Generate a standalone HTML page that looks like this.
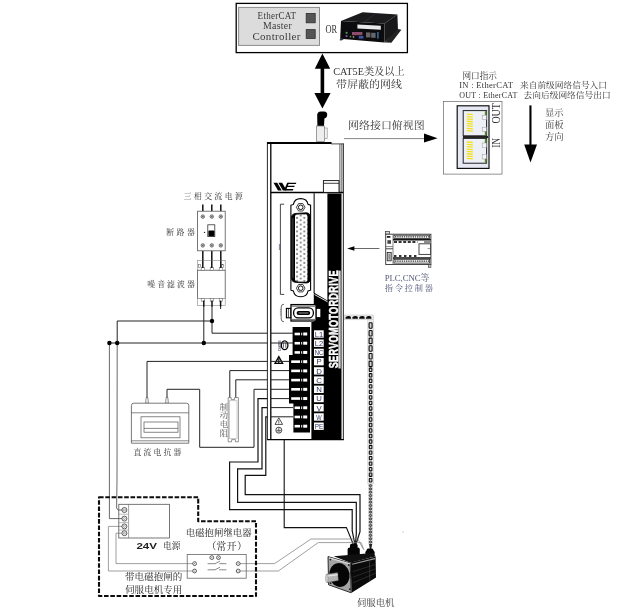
<!DOCTYPE html>
<html lang="zh-CN">
<head>
<meta charset="utf-8">
<title>EtherCAT 伺服驱动器接线图</title>
<style>
html,body{margin:0;padding:0;background:#fff;}
body{width:622px;height:615px;overflow:hidden;font-family:"Liberation Serif","Noto Serif CJK SC",serif;}
svg{display:block;filter:blur(0.4px);}
text{white-space:pre;}
</style>
</head>
<body>
<svg width="622" height="615" viewBox="0 0 622 615" role="img" aria-label="EtherCAT 伺服驱动器接线图">
<defs>
<pattern id="pins" x="295.2" y="214.4" width="7.3" height="4.5" patternUnits="userSpaceOnUse">
<rect width="7.3" height="4.5" fill="#fff"/>
<circle cx="1.85" cy="3.5" r="0.7" fill="#bbb" stroke="#333" stroke-width="0.5"/>
<circle cx="5.5" cy="1.25" r="0.7" fill="#bbb" stroke="#333" stroke-width="0.5"/>
</pattern>
</defs>
<rect width="622" height="615" fill="#fff"/>
<!-- master controller box -->
<rect x="236.2" y="3.4" width="171.2" height="49.2" fill="none" stroke="#000" stroke-width="1.3" />
<rect x="238.6" y="7.4" width="80.9" height="38.0" fill="#dcdcdc" stroke="#8c8c8c" stroke-width="1" />
<text x="257.6" y="18.7" font-size="10" fill="#3a3a3a" font-family='"Liberation Serif","Noto Serif CJK SC",serif' textLength="38.8" lengthAdjust="spacingAndGlyphs" letter-spacing="0.3">EtherCAT</text>
<text x="263" y="29.4" font-size="10" fill="#3a3a3a" font-family='"Liberation Serif","Noto Serif CJK SC",serif' textLength="29" lengthAdjust="spacingAndGlyphs" letter-spacing="0.3">Master</text>
<text x="252.4" y="40.2" font-size="10" fill="#3a3a3a" font-family='"Liberation Serif","Noto Serif CJK SC",serif' textLength="48.4" lengthAdjust="spacingAndGlyphs" letter-spacing="0.3">Controller</text>
<rect x="306.2" y="13.4" width="9.0" height="9.4" fill="#555" stroke="#2e2e2e" stroke-width="0.8" />
<rect x="306.2" y="29.6" width="9.0" height="8.8" fill="#555" stroke="#2e2e2e" stroke-width="0.8" />
<text x="325.6" y="33.4" font-size="13.4" fill="#333" font-family='"Liberation Serif","Noto Serif CJK SC",serif' textLength="11.6" lengthAdjust="spacingAndGlyphs">OR</text>
<!-- industrial pc -->
<polygon points="362.6,12.2 397.4,14.6 384.4,23.4 341,21" fill="#1b1b1e" stroke="none" stroke-width="1" />
<polygon points="341,21 384.4,23.4 384.4,42.4 340.2,38.8" fill="#0c0c0e" stroke="none" stroke-width="1" />
<polygon points="384.4,23.4 397.4,14.6 398,30.6 384.4,42.4" fill="#18181b" stroke="none" stroke-width="1" />
<polygon points="398,29 401.4,29.8 391.4,42.8 387,42.4 384.4,42.4" fill="#222" stroke="none" stroke-width="1" />
<polygon points="340.2,38.4 344,39 341.5,40.6 339.6,40.2" fill="#333" stroke="none" stroke-width="1" />
<line x1="376" y1="13.2" x2="364" y2="22.4" stroke="#3a3a40" stroke-width="0.6" />
<polygon points="357.4,24.4 380.8,25.8 380.8,29.8 357.4,28.6" fill="#e9e9ec" stroke="none" stroke-width="1" />
<rect x="352" y="32" width="10.4" height="3.2" fill="#8c4c6c" stroke="none" stroke-width="1" />
<circle cx="346.6" cy="32.8" r="1.1" fill="#4a9a5a" stroke="none" stroke-width="1"/>
<circle cx="346.6" cy="36" r="1.1" fill="#7a5aa8" stroke="none" stroke-width="1"/>
<rect x="358.8" y="36" width="4.6" height="2.6" fill="#3c55a8" stroke="none" stroke-width="1" />
<rect x="366" y="32.4" width="4.4" height="5.0" fill="#66666a" stroke="none" stroke-width="1" />
<rect x="371.2" y="32.8" width="4.4" height="5.0" fill="#66666a" stroke="none" stroke-width="1" />
<rect x="377.2" y="32" width="1.4" height="6.6" fill="#3a78b0" stroke="none" stroke-width="1" />
<circle cx="350.5" cy="36.6" r="0.9" fill="#5a8a4a" stroke="none" stroke-width="1"/>
<circle cx="353.5" cy="37" r="0.9" fill="#888" stroke="none" stroke-width="1"/>
<!-- double arrow -->
<polygon points="322.4,53.6 330.2,68.8 324.2,68.8 324.2,93 330.6,93 322.4,108.4 314.4,93 320.6,93 320.6,68.8 314.8,68.8" fill="#000" stroke="none" stroke-width="1" />
<text x="369" y="75" font-size="10.6" fill="#333" font-family='"Liberation Serif","Noto Serif CJK SC",serif' text-anchor="middle" textLength="71.5" lengthAdjust="spacingAndGlyphs">CAT5E类及以上</text>
<text x="369" y="88.4" font-size="10.6" fill="#333" font-family='"Liberation Serif","Noto Serif CJK SC",serif' text-anchor="middle" textLength="66" lengthAdjust="spacingAndGlyphs">带屏蔽的网线</text>
<path d="M317.4,126 L317.2,116 Q316.8,111.4 321,111.4 L324,111.4 Q327.4,111.6 327.2,115 Q327,118 324.4,118.4 L324,126 Z" fill="#000" stroke="none" stroke-width="1" />
<rect x="316.4" y="126" width="8.0" height="15.6" fill="#eee" stroke="#7c7474" stroke-width="0.7" />
<rect x="324.4" y="128" width="2.8" height="10.6" fill="#f4f4f4" stroke="#8c8484" stroke-width="0.6" />
<line x1="344" y1="138.6" x2="426" y2="138.6" stroke="#666" stroke-width="0.8" />
<polygon points="424,133.6 437.6,138.2 424,142.6" fill="#000" stroke="none" stroke-width="1" />
<text x="386.4" y="129" font-size="10.6" fill="#333" font-family='"Liberation Serif","Noto Serif CJK SC",serif' text-anchor="middle" textLength="76.6" lengthAdjust="spacingAndGlyphs">网络接口俯视图</text>
<!-- port view -->
<rect x="443.4" y="101.4" width="58.6" height="72.7" fill="#fff" stroke="#666" stroke-width="0.7" />
<rect x="457.2" y="105.8" width="31.8" height="62.6" fill="#e6e9f4" stroke="#111" stroke-width="1.2" />
<rect x="463.2" y="110.6" width="23.4" height="25.2" fill="#eef0f8" stroke="#222" stroke-width="1" />
<line x1="466.8" y1="114.19999999999999" x2="472.8" y2="114.69999999999999" stroke="#f2e21a" stroke-width="1.3" />
<line x1="466.8" y1="116.54999999999998" x2="472.8" y2="117.04999999999998" stroke="#f2e21a" stroke-width="1.3" />
<line x1="466.8" y1="118.89999999999999" x2="472.8" y2="119.39999999999999" stroke="#f2e21a" stroke-width="1.3" />
<line x1="466.8" y1="121.24999999999999" x2="472.8" y2="121.74999999999999" stroke="#f2e21a" stroke-width="1.3" />
<line x1="466.8" y1="123.6" x2="472.8" y2="124.1" stroke="#f2e21a" stroke-width="1.3" />
<line x1="466.8" y1="125.94999999999999" x2="472.8" y2="126.44999999999999" stroke="#f2e21a" stroke-width="1.3" />
<line x1="466.8" y1="128.29999999999998" x2="472.8" y2="128.79999999999998" stroke="#f2e21a" stroke-width="1.3" />
<line x1="466.8" y1="130.64999999999998" x2="472.8" y2="131.14999999999998" stroke="#f2e21a" stroke-width="1.3" />
<rect x="482.2" y="115.19999999999999" width="4.2" height="4.4" fill="#f4f4f8" stroke="#999" stroke-width="0.5" />
<rect x="482.2" y="127.20000000000002" width="4.2" height="4.4" fill="#f4f4f8" stroke="#999" stroke-width="0.5" />
<rect x="484.8" y="111.19999999999999" width="1.8" height="4.0" fill="#5a8a2a" stroke="none" stroke-width="1" />
<rect x="484.8" y="131.4" width="1.8" height="4.0" fill="#5a8a2a" stroke="none" stroke-width="1" />
<rect x="463.2" y="138.4" width="23.4" height="24.8" fill="#eef0f8" stroke="#222" stroke-width="1" />
<line x1="466.8" y1="142.0" x2="472.8" y2="142.5" stroke="#f2e21a" stroke-width="1.3" />
<line x1="466.8" y1="144.35" x2="472.8" y2="144.85" stroke="#f2e21a" stroke-width="1.3" />
<line x1="466.8" y1="146.7" x2="472.8" y2="147.2" stroke="#f2e21a" stroke-width="1.3" />
<line x1="466.8" y1="149.05" x2="472.8" y2="149.55" stroke="#f2e21a" stroke-width="1.3" />
<line x1="466.8" y1="151.4" x2="472.8" y2="151.9" stroke="#f2e21a" stroke-width="1.3" />
<line x1="466.8" y1="153.75" x2="472.8" y2="154.25" stroke="#f2e21a" stroke-width="1.3" />
<line x1="466.8" y1="156.1" x2="472.8" y2="156.6" stroke="#f2e21a" stroke-width="1.3" />
<line x1="466.8" y1="158.45" x2="472.8" y2="158.95" stroke="#f2e21a" stroke-width="1.3" />
<rect x="482.2" y="143.0" width="4.2" height="4.4" fill="#f4f4f8" stroke="#999" stroke-width="0.5" />
<rect x="482.2" y="154.6" width="4.2" height="4.4" fill="#f4f4f8" stroke="#999" stroke-width="0.5" />
<rect x="484.8" y="139.0" width="1.8" height="4.0" fill="#5a8a2a" stroke="none" stroke-width="1" />
<rect x="484.8" y="158.79999999999998" width="1.8" height="4.0" fill="#5a8a2a" stroke="none" stroke-width="1" />
<line x1="463" y1="137" x2="488" y2="137" stroke="#111" stroke-width="1.8" />
<text x="0" y="0" font-size="11.6" fill="#333" font-family='"Liberation Serif","Noto Serif CJK SC",serif' textLength="10" lengthAdjust="spacingAndGlyphs" transform="translate(500,147.8) rotate(-90)">IN</text>
<text x="0" y="0" font-size="11.6" fill="#333" font-family='"Liberation Serif","Noto Serif CJK SC",serif' textLength="20.4" lengthAdjust="spacingAndGlyphs" transform="translate(500,123.6) rotate(-90)">OUT</text>
<text x="462.4" y="79.2" font-size="8.6" fill="#333" font-family='"Liberation Serif","Noto Serif CJK SC",serif' textLength="34.6" lengthAdjust="spacingAndGlyphs">网口指示</text>
<text x="459.2" y="88" font-size="9" fill="#333" font-family='"Liberation Serif","Noto Serif CJK SC",serif' textLength="54" lengthAdjust="spacingAndGlyphs" letter-spacing="0.3">IN : EtherCAT</text>
<text x="520" y="88" font-size="8.3" fill="#333" font-family='"Liberation Serif","Noto Serif CJK SC",serif' textLength="87" lengthAdjust="spacingAndGlyphs">来自前级网络信号入口</text>
<text x="459.2" y="97.8" font-size="9" fill="#333" font-family='"Liberation Serif","Noto Serif CJK SC",serif' textLength="58.4" lengthAdjust="spacingAndGlyphs" letter-spacing="0.3">OUT : EtherCAT</text>
<text x="523.6" y="97.8" font-size="8.3" fill="#333" font-family='"Liberation Serif","Noto Serif CJK SC",serif' textLength="87" lengthAdjust="spacingAndGlyphs">去向后级网络信号出口</text>
<rect x="529.4" y="105.4" width="2.1" height="40.6" fill="#000" stroke="none" stroke-width="1" />
<polygon points="524.2,144.6 537,144.6 530.5,162.6" fill="#000" stroke="none" stroke-width="1" />
<text x="545" y="116.4" font-size="9.4" fill="#444" font-family='"Liberation Serif","Noto Serif CJK SC",serif' textLength="18.6" lengthAdjust="spacingAndGlyphs">显示</text>
<text x="545" y="128.4" font-size="9.4" fill="#444" font-family='"Liberation Serif","Noto Serif CJK SC",serif' textLength="18.6" lengthAdjust="spacingAndGlyphs">面板</text>
<text x="545" y="140" font-size="9.4" fill="#444" font-family='"Liberation Serif","Noto Serif CJK SC",serif' textLength="18.6" lengthAdjust="spacingAndGlyphs">方向</text>
<!-- plc -->
<rect x="385.6" y="231.4" width="4.0" height="2.8" fill="#ddd" stroke="#333" stroke-width="0.7" />
<rect x="385.7" y="234.2" width="45.2" height="30.3" fill="#fff" stroke="#333" stroke-width="0.9" />
<line x1="393" y1="234.2" x2="393" y2="264.5" stroke="#555" stroke-width="0.7" />
<rect x="386.8" y="236" width="3.6" height="1.8" fill="#222" stroke="none" stroke-width="1" />
<rect x="387.4" y="240.2" width="3.6" height="3.6" fill="#444" stroke="none" stroke-width="1" />
<line x1="386" y1="246.6" x2="393" y2="246.6" stroke="#666" stroke-width="0.8" />
<line x1="386" y1="248.8" x2="393" y2="248.8" stroke="#444" stroke-width="1" />
<rect x="387.2" y="252.4" width="4.0" height="8.4" fill="#ccc" stroke="#222" stroke-width="0.8" />
<line x1="389.2" y1="254" x2="389.2" y2="259.4" stroke="#555" stroke-width="0.8" />
<rect x="394" y="235.2" width="35.7" height="3.3" fill="#fff" stroke="#222" stroke-width="0.8" />
<line x1="395" y1="236.9" x2="429" y2="236.9" stroke="#333" stroke-width="1.3" stroke-dasharray="1.4 0.8"/>
<line x1="393" y1="239.8" x2="430.8" y2="239.8" stroke="#111" stroke-width="1.5" />
<line x1="394" y1="242" x2="417.4" y2="242" stroke="#333" stroke-width="1.8" stroke-dasharray="3 1.6"/>
<line x1="424" y1="242" x2="430.4" y2="242" stroke="#444" stroke-width="1.2" />
<rect x="419" y="243.8" width="11.6" height="10.6" fill="#fff" stroke="#333" stroke-width="0.9" />
<line x1="427.6" y1="248.6" x2="430" y2="248.6" stroke="#666" stroke-width="0.7" />
<line x1="394" y1="256" x2="417.4" y2="256" stroke="#333" stroke-width="1.8" stroke-dasharray="2.4 2.6"/>
<line x1="393" y1="258" x2="430.8" y2="258" stroke="#111" stroke-width="1.5" />
<rect x="394" y="259.3" width="35.7" height="3.8" fill="#fff" stroke="#222" stroke-width="0.8" />
<line x1="395" y1="261.2" x2="429" y2="261.2" stroke="#333" stroke-width="1.3" stroke-dasharray="1.4 0.8"/>
<rect x="428.4" y="264.5" width="2.5" height="2.9" fill="#ccc" stroke="#333" stroke-width="0.6" />
<line x1="353" y1="248.5" x2="379.4" y2="248.5" stroke="#444" stroke-width="0.8" />
<polygon points="347.2,248.5 354.4,246.3 354.4,250.7" fill="#000" stroke="none" stroke-width="1" />
<text x="384.8" y="281.2" font-size="8.8" fill="#565a78" font-family='"Liberation Serif","Noto Serif CJK SC",serif' textLength="44.4" lengthAdjust="spacing">PLC,CNC等</text>
<text x="384.8" y="290.6" font-size="8.2" fill="#565a78" font-family='"Liberation Serif","Noto Serif CJK SC",serif' textLength="48.2" lengthAdjust="spacing">指令控制器</text>
<!-- encoder cable -->
<rect x="344.6" y="315" width="29.0" height="4.8" fill="#eaeaea" stroke="#bdbdbd" stroke-width="0.5" />
<path d="M345.6,318.8 L345.6,317.6 Q346.0,316 348.20000000000005,316 L349.0,316 Q351.0,316 351.0,317.6 L351.0,318.8 Z" fill="#0a0a0a" stroke="none" stroke-width="1" />
<path d="M352.40000000000003,318.8 L352.40000000000003,317.6 Q352.8,316 355.00000000000006,316 L355.8,316 Q357.8,316 357.8,317.6 L357.8,318.8 Z" fill="#0a0a0a" stroke="none" stroke-width="1" />
<path d="M359.20000000000005,318.8 L359.20000000000005,317.6 Q359.6,316 361.80000000000007,316 L362.6,316 Q364.6,316 364.6,317.6 L364.6,318.8 Z" fill="#0a0a0a" stroke="none" stroke-width="1" />
<path d="M366.0,318.8 L366.0,317.6 Q366.4,316 368.6,316 L369.4,316 Q371.4,316 371.4,317.6 L371.4,318.8 Z" fill="#0a0a0a" stroke="none" stroke-width="1" />
<rect x="367.8" y="319.8" width="5.8" height="164.2" fill="#ececec" stroke="#c4c4c4" stroke-width="0.5" />
<rect x="368.4" y="484" width="4.4" height="60" fill="#e4e4e4" stroke="#c8c8c8" stroke-width="0.4" />
<rect x="369.1" y="322.75" width="3" height="5.5" fill="#d4d4d4" stroke="#0a0a0a" stroke-width="1.1" rx="0.7" />
<rect x="369.1" y="330.43" width="3" height="5.5" fill="#d4d4d4" stroke="#0a0a0a" stroke-width="1.1" rx="0.7" />
<rect x="369.1" y="338.11" width="3" height="5.5" fill="#d4d4d4" stroke="#0a0a0a" stroke-width="1.1" rx="0.7" />
<rect x="369.1" y="345.79" width="3" height="5.5" fill="#d4d4d4" stroke="#0a0a0a" stroke-width="1.1" rx="0.7" />
<rect x="369.1" y="353.47" width="3" height="5.5" fill="#d4d4d4" stroke="#0a0a0a" stroke-width="1.1" rx="0.7" />
<rect x="369.1" y="361.15" width="3" height="5.5" fill="#d4d4d4" stroke="#0a0a0a" stroke-width="1.1" rx="0.7" />
<rect x="369.3" y="368.1" width="2.6" height="3.4" fill="#d0d0d0" stroke="#0a0a0a" stroke-width="1.05" rx="0.5" />
<rect x="369.3" y="373.62" width="2.6" height="3.4" fill="#d0d0d0" stroke="#0a0a0a" stroke-width="1.05" rx="0.5" />
<rect x="369.3" y="379.14" width="2.6" height="3.4" fill="#d0d0d0" stroke="#0a0a0a" stroke-width="1.05" rx="0.5" />
<rect x="369.3" y="384.66" width="2.6" height="3.4" fill="#d0d0d0" stroke="#0a0a0a" stroke-width="1.05" rx="0.5" />
<rect x="369.3" y="390.18" width="2.6" height="3.4" fill="#d0d0d0" stroke="#0a0a0a" stroke-width="1.05" rx="0.5" />
<rect x="369.3" y="395.7" width="2.6" height="3.4" fill="#d0d0d0" stroke="#0a0a0a" stroke-width="1.05" rx="0.5" />
<rect x="369.3" y="401.22" width="2.6" height="3.4" fill="#d0d0d0" stroke="#0a0a0a" stroke-width="1.05" rx="0.5" />
<rect x="369.3" y="406.74" width="2.6" height="3.4" fill="#d0d0d0" stroke="#0a0a0a" stroke-width="1.05" rx="0.5" />
<rect x="369.3" y="412.26" width="2.6" height="3.4" fill="#d0d0d0" stroke="#0a0a0a" stroke-width="1.05" rx="0.5" />
<rect x="369.3" y="417.78" width="2.6" height="3.4" fill="#d0d0d0" stroke="#0a0a0a" stroke-width="1.05" rx="0.5" />
<rect x="369.3" y="423.3" width="2.6" height="3.4" fill="#d0d0d0" stroke="#0a0a0a" stroke-width="1.05" rx="0.5" />
<rect x="369.3" y="428.82" width="2.6" height="3.4" fill="#d0d0d0" stroke="#0a0a0a" stroke-width="1.05" rx="0.5" />
<rect x="369.3" y="434.34" width="2.6" height="3.4" fill="#d0d0d0" stroke="#0a0a0a" stroke-width="1.05" rx="0.5" />
<rect x="369.3" y="439.86" width="2.6" height="3.4" fill="#d0d0d0" stroke="#0a0a0a" stroke-width="1.05" rx="0.5" />
<rect x="369.3" y="445.38" width="2.6" height="3.4" fill="#d0d0d0" stroke="#0a0a0a" stroke-width="1.05" rx="0.5" />
<rect x="369.3" y="450.9" width="2.6" height="3.4" fill="#d0d0d0" stroke="#0a0a0a" stroke-width="1.05" rx="0.5" />
<rect x="369.3" y="456.42" width="2.6" height="3.4" fill="#d0d0d0" stroke="#0a0a0a" stroke-width="1.05" rx="0.5" />
<rect x="369.3" y="461.94" width="2.6" height="3.4" fill="#d0d0d0" stroke="#0a0a0a" stroke-width="1.05" rx="0.5" />
<rect x="369.3" y="467.46" width="2.6" height="3.4" fill="#d0d0d0" stroke="#0a0a0a" stroke-width="1.05" rx="0.5" />
<rect x="369.3" y="472.98" width="2.6" height="3.4" fill="#d0d0d0" stroke="#0a0a0a" stroke-width="1.05" rx="0.5" />
<rect x="369.3" y="478.5" width="2.6" height="3.4" fill="#d0d0d0" stroke="#0a0a0a" stroke-width="1.05" rx="0.5" />
<ellipse cx="370.5" cy="485.6" rx="1.25" ry="1.05" fill="#9a9a9a" stroke="#1a1a1a" stroke-width="0.8"/>
<ellipse cx="370.5" cy="488.92" rx="1.25" ry="1.05" fill="#9a9a9a" stroke="#1a1a1a" stroke-width="0.8"/>
<ellipse cx="370.5" cy="492.24" rx="1.25" ry="1.05" fill="#9a9a9a" stroke="#1a1a1a" stroke-width="0.8"/>
<ellipse cx="370.5" cy="495.56" rx="1.25" ry="1.05" fill="#9a9a9a" stroke="#1a1a1a" stroke-width="0.8"/>
<ellipse cx="370.5" cy="498.88" rx="1.25" ry="1.05" fill="#9a9a9a" stroke="#1a1a1a" stroke-width="0.8"/>
<ellipse cx="370.5" cy="502.2" rx="1.25" ry="1.05" fill="#9a9a9a" stroke="#1a1a1a" stroke-width="0.8"/>
<ellipse cx="370.5" cy="505.52" rx="1.25" ry="1.05" fill="#9a9a9a" stroke="#1a1a1a" stroke-width="0.8"/>
<ellipse cx="370.5" cy="508.84" rx="1.25" ry="1.05" fill="#9a9a9a" stroke="#1a1a1a" stroke-width="0.8"/>
<ellipse cx="370.5" cy="512.16" rx="1.25" ry="1.05" fill="#9a9a9a" stroke="#1a1a1a" stroke-width="0.8"/>
<ellipse cx="370.5" cy="515.48" rx="1.25" ry="1.05" fill="#9a9a9a" stroke="#1a1a1a" stroke-width="0.8"/>
<ellipse cx="370.5" cy="518.8" rx="1.25" ry="1.05" fill="#9a9a9a" stroke="#1a1a1a" stroke-width="0.8"/>
<ellipse cx="370.5" cy="522.12" rx="1.25" ry="1.05" fill="#9a9a9a" stroke="#1a1a1a" stroke-width="0.8"/>
<ellipse cx="370.5" cy="525.44" rx="1.25" ry="1.05" fill="#9a9a9a" stroke="#1a1a1a" stroke-width="0.8"/>
<ellipse cx="370.5" cy="528.76" rx="1.25" ry="1.05" fill="#9a9a9a" stroke="#1a1a1a" stroke-width="0.8"/>
<ellipse cx="370.5" cy="532.08" rx="1.25" ry="1.05" fill="#9a9a9a" stroke="#1a1a1a" stroke-width="0.8"/>
<ellipse cx="370.5" cy="535.4" rx="1.25" ry="1.05" fill="#9a9a9a" stroke="#1a1a1a" stroke-width="0.8"/>
<ellipse cx="370.5" cy="538.72" rx="1.25" ry="1.05" fill="#9a9a9a" stroke="#1a1a1a" stroke-width="0.8"/>
<ellipse cx="370.5" cy="542.04" rx="1.25" ry="1.05" fill="#9a9a9a" stroke="#1a1a1a" stroke-width="0.8"/>
<polygon points="369,544 372.2,544 371.2,549 369.8,549" fill="#222" stroke="none" stroke-width="1" />
<!-- wires -->
<polyline points="212,305 212,333.2 292,333.2" fill="none" stroke="#222" stroke-width="1.0" />
<polyline points="212,321 117.2,321 117.2,343" fill="none" stroke="#222" stroke-width="1.0" />
<polyline points="117.2,343 117,480 116.6,508 118,510 124.4,510" fill="none" stroke="#444" stroke-width="0.8" />
<polyline points="203.8,305 203.8,343" fill="none" stroke="#222" stroke-width="1.0" />
<polyline points="109.4,343 292,343" fill="none" stroke="#222" stroke-width="1.0" />
<polyline points="109.4,343 109.4,518.6 124.4,518.6" fill="none" stroke="#444" stroke-width="0.8" />
<line x1="220.6" y1="305" x2="220.6" y2="309" stroke="#222" stroke-width="1.0" />
<circle cx="212" cy="321" r="2.2" fill="#000" stroke="none" stroke-width="1"/>
<circle cx="203.8" cy="343" r="2.2" fill="#000" stroke="none" stroke-width="1"/>
<circle cx="109.4" cy="343" r="2.2" fill="#000" stroke="none" stroke-width="1"/>
<circle cx="117.2" cy="343" r="2.2" fill="#000" stroke="none" stroke-width="1"/>
<polyline points="147,398 147,361.4 292,361.4" fill="none" stroke="#222" stroke-width="1.0" />
<polyline points="229.8,398 229.8,370.6 292,370.6" fill="none" stroke="#222" stroke-width="1.0" />
<polyline points="235.8,398 235.8,379.8 292,379.8" fill="none" stroke="#222" stroke-width="1.0" />
<polyline points="167,398 167,389.3 199.7,389.3 199.7,447.3 254,447.3 254,389.3 292,389.3" fill="none" stroke="#222" stroke-width="1.0" />
<polyline points="292,398.6 258,398.6 258,462 229.6,462 229.6,509.7 352.2,509.7 352.2,530.6 354.8,544" fill="none" stroke="#111" stroke-width="1.2" />
<polyline points="292,407.6 262,407.6 262,468.8 237.6,468.8 237.6,502.3 356.3,502.3 356.3,534 355.4,544" fill="none" stroke="#111" stroke-width="1.2" />
<polyline points="292,416.8 265.8,416.8 265.8,475.4 245.2,475.4 245.2,494.6 360,494.6 360,531.6 356,544" fill="none" stroke="#111" stroke-width="1.2" />
<polyline points="284.2,440 284.2,527.6 346.4,527.6 353.6,545" fill="none" stroke="#111" stroke-width="1.1" />
<polyline points="124.4,526.4 108.4,526.4 108.4,571 194,571" fill="none" stroke="#777" stroke-width="0.7" />
<polyline points="124.4,533.2 116,533.2 116,563.6 194,563.6" fill="none" stroke="#777" stroke-width="0.7" />
<polyline points="238.2,563.6 274.6,563.6 311,539 357.8,539 363,548.6" fill="none" stroke="#777" stroke-width="0.7" />
<polyline points="238.2,571 278.4,571 318.2,542.6 361,542.6 364,550" fill="none" stroke="#777" stroke-width="0.7" />
<!-- breaker -->
<line x1="202.8" y1="204.4" x2="202.8" y2="211.4" stroke="#111" stroke-width="1.5" />
<line x1="202.8" y1="250.6" x2="202.8" y2="270.4" stroke="#111" stroke-width="1.5" />
<line x1="211.8" y1="204.4" x2="211.8" y2="211.4" stroke="#111" stroke-width="1.5" />
<line x1="211.8" y1="250.6" x2="211.8" y2="270.4" stroke="#111" stroke-width="1.5" />
<line x1="220.8" y1="204.4" x2="220.8" y2="211.4" stroke="#111" stroke-width="1.5" />
<line x1="220.8" y1="250.6" x2="220.8" y2="270.4" stroke="#111" stroke-width="1.5" />
<rect x="197.6" y="211.2" width="27.6" height="39.6" fill="#fff" stroke="#555" stroke-width="0.8" />
<circle cx="202.8" cy="216.6" r="1.7" fill="#fff" stroke="#333" stroke-width="0.7"/>
<line x1="201.70000000000002" y1="216.6" x2="203.9" y2="216.6" stroke="#333" stroke-width="0.6" />
<line x1="202.8" y1="215.5" x2="202.8" y2="217.7" stroke="#333" stroke-width="0.6" />
<circle cx="202.8" cy="245.4" r="1.7" fill="#fff" stroke="#333" stroke-width="0.7"/>
<line x1="201.70000000000002" y1="245.4" x2="203.9" y2="245.4" stroke="#333" stroke-width="0.6" />
<line x1="202.8" y1="244.3" x2="202.8" y2="246.5" stroke="#333" stroke-width="0.6" />
<circle cx="211.8" cy="216.6" r="1.7" fill="#fff" stroke="#333" stroke-width="0.7"/>
<line x1="210.70000000000002" y1="216.6" x2="212.9" y2="216.6" stroke="#333" stroke-width="0.6" />
<line x1="211.8" y1="215.5" x2="211.8" y2="217.7" stroke="#333" stroke-width="0.6" />
<circle cx="211.8" cy="245.4" r="1.7" fill="#fff" stroke="#333" stroke-width="0.7"/>
<line x1="210.70000000000002" y1="245.4" x2="212.9" y2="245.4" stroke="#333" stroke-width="0.6" />
<line x1="211.8" y1="244.3" x2="211.8" y2="246.5" stroke="#333" stroke-width="0.6" />
<circle cx="220.8" cy="216.6" r="1.7" fill="#fff" stroke="#333" stroke-width="0.7"/>
<line x1="219.70000000000002" y1="216.6" x2="221.9" y2="216.6" stroke="#333" stroke-width="0.6" />
<line x1="220.8" y1="215.5" x2="220.8" y2="217.7" stroke="#333" stroke-width="0.6" />
<circle cx="220.8" cy="245.4" r="1.7" fill="#fff" stroke="#333" stroke-width="0.7"/>
<line x1="219.70000000000002" y1="245.4" x2="221.9" y2="245.4" stroke="#333" stroke-width="0.6" />
<line x1="220.8" y1="244.3" x2="220.8" y2="246.5" stroke="#333" stroke-width="0.6" />
<rect x="207.8" y="224.8" width="7.0" height="11.8" fill="#fff" stroke="#333" stroke-width="0.8" />
<rect x="208.4" y="230.4" width="6.0" height="5.8" fill="#000" stroke="none" stroke-width="1" rx="1" />
<circle cx="204.5" cy="232.4" r="0.7" fill="#222" stroke="none" stroke-width="1"/>
<text x="183.8" y="198.6" font-size="7.8" fill="#333" font-family='"Liberation Serif","Noto Serif CJK SC",serif' textLength="59" lengthAdjust="spacing">三相交流电源</text>
<text x="166.2" y="234.8" font-size="7.8" fill="#333" font-family='"Liberation Serif","Noto Serif CJK SC",serif' textLength="28.6" lengthAdjust="spacing">断路器</text>
<!-- filter -->
<rect x="197.6" y="260.6" width="27.6" height="9.8" fill="#fff" stroke="#888" stroke-width="0.6" />
<rect x="197.6" y="270.2" width="27.6" height="28.2" fill="#fff" stroke="#555" stroke-width="0.8" />
<rect x="197.6" y="298.4" width="27.6" height="7.2" fill="#fff" stroke="#888" stroke-width="0.6" />
<rect x="198.6" y="264.6" width="1.8" height="2.8" fill="#fff" stroke="#555" stroke-width="0.5" />
<rect x="221.79999999999998" y="264.6" width="1.8" height="2.8" fill="#fff" stroke="#555" stroke-width="0.5" />
<rect x="201.20000000000002" y="267.6" width="3.2" height="2.8" fill="#fff" stroke="#555" stroke-width="0.5" />
<rect x="201.20000000000002" y="298.4" width="3.2" height="2.8" fill="#fff" stroke="#555" stroke-width="0.5" />
<line x1="202.8" y1="260.6" x2="202.8" y2="268" stroke="#111" stroke-width="1.5" />
<rect x="210.20000000000002" y="267.6" width="3.2" height="2.8" fill="#fff" stroke="#555" stroke-width="0.5" />
<rect x="210.20000000000002" y="298.4" width="3.2" height="2.8" fill="#fff" stroke="#555" stroke-width="0.5" />
<line x1="211.8" y1="260.6" x2="211.8" y2="268" stroke="#111" stroke-width="1.5" />
<rect x="219.20000000000002" y="267.6" width="3.2" height="2.8" fill="#fff" stroke="#555" stroke-width="0.5" />
<rect x="219.20000000000002" y="298.4" width="3.2" height="2.8" fill="#fff" stroke="#555" stroke-width="0.5" />
<line x1="220.8" y1="260.6" x2="220.8" y2="268" stroke="#111" stroke-width="1.5" />
<line x1="203.8" y1="300.6" x2="203.8" y2="306.4" stroke="#111" stroke-width="1.5" />
<line x1="212" y1="300.6" x2="212" y2="306.4" stroke="#111" stroke-width="1.5" />
<line x1="220.6" y1="300.6" x2="220.6" y2="306.4" stroke="#111" stroke-width="1.5" />
<text x="147.2" y="286.6" font-size="7.8" fill="#333" font-family='"Liberation Serif","Noto Serif CJK SC",serif' textLength="47.6" lengthAdjust="spacing">噪音滤波器</text>
<!-- reactor -->
<polygon points="146.2,397.4 147.8,397.4 148.4,403.2 145.6,403.2" fill="#fff" stroke="#444" stroke-width="0.6" />
<polygon points="166.2,397.4 167.8,397.4 168.4,403.2 165.6,403.2" fill="#fff" stroke="#444" stroke-width="0.6" />
<path d="M131.4,443.2 L131.4,405.6 Q131.4,403.2 133.8,403.2 L186.4,403.2 Q188.8,403.2 188.8,405.6 L188.8,443.2 Z" fill="#fff" stroke="#555" stroke-width="0.8" />
<line x1="131.4" y1="412.8" x2="188.8" y2="412.8" stroke="#555" stroke-width="0.7" />
<line x1="131.4" y1="440.8" x2="188.8" y2="440.8" stroke="#555" stroke-width="0.7" />
<rect x="141" y="416.8" width="39" height="21.0" fill="#fff" stroke="#555" stroke-width="0.7" />
<rect x="144" y="422" width="34" height="10.2" fill="#fff" stroke="#555" stroke-width="0.7" />
<line x1="144" y1="428.4" x2="178" y2="428.4" stroke="#555" stroke-width="0.7" />
<text x="133.4" y="454.8" font-size="7.8" fill="#333" font-family='"Liberation Serif","Noto Serif CJK SC",serif' textLength="47.8" lengthAdjust="spacing">直流电抗器</text>
<!-- brake resistor -->
<path d="M228.2,441.8 L228.2,397.6 L231.2,397.6 L231.2,399.6 L234.6,399.6 L234.6,397.6 L238.4,397.6 L238.4,441.8 L235.4,441.8 L235.4,439.6 L231.6,439.6 L231.6,441.8 Z" fill="#fff" stroke="#666" stroke-width="0.7" />
<rect x="229.6" y="400.8" width="7.4" height="37.8" fill="none" stroke="#999" stroke-width="0.5" />
<text x="223.8" y="409.6" font-size="8.2" fill="#555" font-family='"Liberation Serif","Noto Serif CJK SC",serif' text-anchor="middle">制</text>
<text x="223.8" y="418.40000000000003" font-size="8.2" fill="#555" font-family='"Liberation Serif","Noto Serif CJK SC",serif' text-anchor="middle">动</text>
<text x="223.8" y="427.20000000000005" font-size="8.2" fill="#555" font-family='"Liberation Serif","Noto Serif CJK SC",serif' text-anchor="middle">电</text>
<text x="223.8" y="436.0" font-size="8.2" fill="#555" font-family='"Liberation Serif","Noto Serif CJK SC",serif' text-anchor="middle">阻</text>
<!-- dashed area -->
<path d="M99,497.2 L198.2,497.2 L198.2,521.2 L256,521.2 L256,596 L99,596 Z" fill="none" stroke="#0c0c0c" stroke-width="2.1" stroke-dasharray="4.6 1.7" stroke-linejoin="round"/>
<rect x="118.8" y="504.3" width="50.7" height="33.7" fill="none" stroke="#555" stroke-width="0.8" />
<line x1="128.6" y1="504.3" x2="128.6" y2="538" stroke="#666" stroke-width="0.6" />
<circle cx="124.4" cy="510" r="2.5" fill="#fff" stroke="#333" stroke-width="0.8"/>
<circle cx="124.4" cy="510" r="1" fill="#fff" stroke="#555" stroke-width="0.5"/>
<circle cx="124.4" cy="518.6" r="2.5" fill="#fff" stroke="#333" stroke-width="0.8"/>
<circle cx="124.4" cy="518.6" r="1" fill="#fff" stroke="#555" stroke-width="0.5"/>
<circle cx="124.4" cy="526.4" r="2.5" fill="#fff" stroke="#333" stroke-width="0.8"/>
<circle cx="124.4" cy="526.4" r="1" fill="#fff" stroke="#555" stroke-width="0.5"/>
<circle cx="124.4" cy="533.2" r="2.5" fill="#fff" stroke="#333" stroke-width="0.8"/>
<circle cx="124.4" cy="533.2" r="1" fill="#fff" stroke="#555" stroke-width="0.5"/>
<line x1="118.6" y1="514.2" x2="128.4" y2="514.2" stroke="#777" stroke-width="0.5" />
<line x1="118.6" y1="522.6" x2="128.4" y2="522.6" stroke="#777" stroke-width="0.5" />
<line x1="118.6" y1="530" x2="128.4" y2="530" stroke="#777" stroke-width="0.5" />
<text x="136.4" y="549.4" font-size="9.4" fill="#222" font-family='"Liberation Sans","Noto Sans CJK SC",sans-serif' textLength="20.6" lengthAdjust="spacingAndGlyphs" font-weight="bold">24V</text>
<text x="163" y="549.4" font-size="9" fill="#222" font-family='"Liberation Serif","Noto Serif CJK SC",serif' textLength="17.4" lengthAdjust="spacingAndGlyphs">电源</text>
<text x="185.8" y="536" font-size="9.4" fill="#222" font-family='"Liberation Serif","Noto Serif CJK SC",serif' textLength="65.8" lengthAdjust="spacingAndGlyphs">电磁抱闸继电器</text>
<text x="206.5" y="549.6" font-size="10" fill="#222" font-family='"Liberation Serif","Noto Serif CJK SC",serif'><tspan x="206.5">（</tspan><tspan x="216.2" textLength="20.4">常开</tspan><tspan x="237">）</tspan></text>
<rect x="187.2" y="554.4" width="59.0" height="23.8" fill="none" stroke="#666" stroke-width="0.8" />
<circle cx="194.6" cy="563.6" r="1.9" fill="#fff" stroke="#333" stroke-width="0.8"/>
<circle cx="194.6" cy="563.6" r="0.6" fill="#777" stroke="none" stroke-width="1"/>
<circle cx="194.6" cy="571" r="1.9" fill="#fff" stroke="#333" stroke-width="0.8"/>
<circle cx="194.6" cy="571" r="0.6" fill="#777" stroke="none" stroke-width="1"/>
<circle cx="238.2" cy="563.6" r="1.9" fill="#fff" stroke="#333" stroke-width="0.8"/>
<circle cx="238.2" cy="563.6" r="0.6" fill="#777" stroke="none" stroke-width="1"/>
<circle cx="238.2" cy="571" r="1.9" fill="#fff" stroke="#333" stroke-width="0.8"/>
<circle cx="238.2" cy="571" r="0.6" fill="#777" stroke="none" stroke-width="1"/>
<circle cx="211.8" cy="557.6" r="1.9" fill="#fff" stroke="#333" stroke-width="0.8"/>
<circle cx="211.8" cy="557.6" r="0.6" fill="#777" stroke="none" stroke-width="1"/>
<circle cx="218.5" cy="557.6" r="1.9" fill="#fff" stroke="#333" stroke-width="0.8"/>
<circle cx="218.5" cy="557.6" r="0.6" fill="#777" stroke="none" stroke-width="1"/>
<line x1="207.6" y1="563.7" x2="215" y2="563.7" stroke="#555" stroke-width="0.7" />
<line x1="215" y1="563.7" x2="220" y2="561.1" stroke="#555" stroke-width="0.7" />
<line x1="219.2" y1="563.7" x2="226.4" y2="563.7" stroke="#555" stroke-width="0.7" />
<line x1="207.6" y1="569.8" x2="215" y2="569.8" stroke="#555" stroke-width="0.7" />
<line x1="215" y1="569.8" x2="220" y2="567.1999999999999" stroke="#555" stroke-width="0.7" />
<line x1="219.2" y1="569.8" x2="226.4" y2="569.8" stroke="#555" stroke-width="0.7" />
<text x="125" y="579.8" font-size="9.2" fill="#222" font-family='"Liberation Serif","Noto Serif CJK SC",serif' textLength="57.4" lengthAdjust="spacingAndGlyphs">带电磁抱闸的</text>
<text x="125" y="592.6" font-size="9.2" fill="#222" font-family='"Liberation Serif","Noto Serif CJK SC",serif' textLength="57.4" lengthAdjust="spacingAndGlyphs">伺服电机专用</text>
<!-- servo drive -->
<rect x="267.4" y="143" width="76.0" height="296.8" fill="#fff" stroke="none" stroke-width="1" />
<line x1="267.4" y1="142.4" x2="267.4" y2="440" stroke="#111" stroke-width="0.9" />
<line x1="270.8" y1="143" x2="270.8" y2="440" stroke="#000" stroke-width="1.3" />
<line x1="267" y1="143" x2="331.6" y2="143" stroke="#000" stroke-width="2" />
<line x1="331" y1="143.9" x2="343.8" y2="143.9" stroke="#222" stroke-width="0.8" />
<line x1="339.9" y1="143.9" x2="339.9" y2="193" stroke="#333" stroke-width="0.8" />
<line x1="343.4" y1="143.6" x2="343.4" y2="440" stroke="#444" stroke-width="1.2" />
<line x1="341.8" y1="143.9" x2="341.8" y2="193" stroke="#222" stroke-width="0.7" />
<line x1="270.8" y1="192.5" x2="343.2" y2="192.5" stroke="#000" stroke-width="1.3" />
<line x1="267" y1="439.7" x2="343.8" y2="439.7" stroke="#000" stroke-width="1.2" />
<line x1="314.2" y1="193" x2="314.2" y2="293" stroke="#5a5a5a" stroke-width="1.6" />
<rect x="323.4" y="180.6" width="15.6" height="11.8" fill="#fff" stroke="#111" stroke-width="0.9" />
<line x1="323.4" y1="183.3" x2="339" y2="183.3" stroke="#111" stroke-width="0.8" />
<polygon points="273.5,182.7 277.2,182.7 281.7,190.4 278,190.4" fill="#000" stroke="none" stroke-width="1" />
<polygon points="278.4,182.7 282.1,182.7 285.1,187.8 287.2,182.7 289,182.7 286,190.4 282.9,190.4" fill="#000" stroke="none" stroke-width="1" />
<polygon points="288.2,182.7 296.4,182.7 295.8,184.1 287.6,184.1" fill="#000" stroke="none" stroke-width="1" />
<polygon points="286.8,185.7 294.8,185.7 294.2,187.1 286.2,187.1" fill="#000" stroke="none" stroke-width="1" />
<polygon points="285.4,188.9 293.4,188.9 292.8,190.4 284.8,190.4" fill="#000" stroke="none" stroke-width="1" />
<polygon points="327.4,193.4 341.5,193.4 341.5,440 311.4,440 311.4,322 313.8,322 313.8,292.6 327.4,300.4" fill="#000" stroke="none" stroke-width="1" />
<line x1="314.6" y1="294.6" x2="327.6" y2="301.8" stroke="#fff" stroke-width="0.9" />
<rect x="338.4" y="270.6" width="2.3" height="97.9" fill="#d0d0d0" stroke="none" stroke-width="1" />
<text x="0" y="0" font-size="12.5" fill="#fff" font-family='"Liberation Sans","Noto Sans CJK SC",sans-serif' textLength="134" lengthAdjust="spacing" font-weight="bold" stroke="#fff" stroke-width="0.5" transform="translate(338.1,368.3) rotate(-90) scale(0.73,1)">SERVOMOTORDRIVE</text>
<path d="M290.9,205.2 L293.4,204.4 Q294.4,198.6 300.7,198.6 Q307,198.6 308,204.4 L310.6,205.2 L310.6,290.2 L308,291 Q307,296.8 300.7,296.8 Q294.4,296.8 293.4,291 L290.9,290.2 Z" fill="#fff" stroke="#000" stroke-width="1.1" />
<polygon points="305.0,207.3 302.85,211.02 298.55,211.02 296.4,207.3 298.55,203.58 302.85,203.58" fill="#fff" stroke="#111" stroke-width="0.8" />
<circle cx="300.7" cy="207.3" r="2.3" fill="#fff" stroke="#111" stroke-width="1"/>
<polygon points="305.0,288.2 302.85,291.92 298.55,291.92 296.4,288.2 298.55,284.48 302.85,284.48" fill="#fff" stroke="#111" stroke-width="0.8" />
<circle cx="300.7" cy="288.2" r="2.3" fill="#fff" stroke="#111" stroke-width="1"/>
<path d="M291.4,217.6 Q291.6,213.6 296,213.4 L306,212.8 Q310.2,212.8 310.2,216.6 L310.2,279.2 Q310.2,283 306,283 L296,282.4 Q291.6,282.2 291.4,278.2 Z" fill="#000" stroke="#000" stroke-width="0.8" />
<line x1="292.9" y1="218" x2="292.9" y2="278" stroke="#999" stroke-width="0.5" />
<path d="M295,216.4 Q295,214.6 297,214.6 L305.6,214.2 Q307.5,214.2 307.5,216 L307.5,280 Q307.5,281.8 305.6,281.8 L297,281.4 Q295,281.4 295,279.6 Z" fill="url(#pins)" stroke="none" stroke-width="1" />
<path d="M284.2,204.2 L280.4,204.2 L280.4,294.4 L284.2,294.4" fill="none" stroke="#333" stroke-width="0.9" />
<line x1="279.4" y1="244" x2="279.4" y2="250" stroke="#668" stroke-width="0.8" />
<path d="M284,304.2 Q281.2,304.2 281.2,307 L281.2,319 Q281.2,321.8 284,321.8" fill="none" stroke="#444" stroke-width="0.8" />
<line x1="280.4" y1="309" x2="280.4" y2="316" stroke="#668" stroke-width="0.7" stroke-dasharray="1.2 1"/>
<rect x="286.4" y="308.4" width="4.6" height="9.4" fill="#fff" stroke="#000" stroke-width="1.1" />
<line x1="288.4" y1="309" x2="288.4" y2="317.4" stroke="#000" stroke-width="0.7" />
<rect x="316" y="308.4" width="4.8" height="9.0" fill="#fff" stroke="#000" stroke-width="0.8" />
<rect x="291" y="304.6" width="25" height="16.4" fill="#fff" stroke="#000" stroke-width="1.3" />
<line x1="292" y1="306.2" x2="315" y2="306.2" stroke="#000" stroke-width="0.6" />
<line x1="292" y1="319.4" x2="315" y2="319.4" stroke="#000" stroke-width="0.6" />
<rect x="293.6" y="307.8" width="19.8" height="10.0" fill="#fff" stroke="#000" stroke-width="1.3" rx="4.6" />
<rect x="296.6" y="311" width="13.6" height="4" fill="#000" stroke="none" stroke-width="1" rx="2" />
<line x1="298.6" y1="313" x2="308.4" y2="313" stroke="#fff" stroke-width="0.6" />
<polygon points="292.6,327 310,327 310,432.4 293.4,432.4 293.4,403.4 289,403.4 289,355 292.6,355" fill="#000" stroke="none" stroke-width="1" />
<rect x="294.6" y="332.7" width="5.4" height="2.6" fill="#fff" stroke="none" stroke-width="1" />
<rect x="301.2" y="332.7" width="1.0" height="2.6" fill="#fff" stroke="none" stroke-width="1" />
<rect x="303.2" y="332.5" width="4.0" height="3.0" fill="#fff" stroke="none" stroke-width="1" />
<rect x="294.6" y="341.92" width="5.4" height="2.6" fill="#fff" stroke="none" stroke-width="1" />
<rect x="301.2" y="341.92" width="1.0" height="2.6" fill="#fff" stroke="none" stroke-width="1" />
<rect x="303.2" y="341.72" width="4.0" height="3.0" fill="#fff" stroke="none" stroke-width="1" />
<rect x="294.6" y="351.14" width="5.4" height="2.6" fill="#fff" stroke="none" stroke-width="1" />
<rect x="301.2" y="351.14" width="1.0" height="2.6" fill="#fff" stroke="none" stroke-width="1" />
<rect x="303.2" y="350.94" width="4.0" height="3.0" fill="#fff" stroke="none" stroke-width="1" />
<rect x="291.20000000000005" y="360.36" width="8.8" height="2.6" fill="#fff" stroke="none" stroke-width="1" />
<rect x="301.2" y="360.36" width="1.0" height="2.6" fill="#fff" stroke="none" stroke-width="1" />
<rect x="303.2" y="360.16" width="4.0" height="3.0" fill="#fff" stroke="none" stroke-width="1" />
<rect x="291.20000000000005" y="369.58" width="8.8" height="2.6" fill="#fff" stroke="none" stroke-width="1" />
<rect x="301.2" y="369.58" width="1.0" height="2.6" fill="#fff" stroke="none" stroke-width="1" />
<rect x="303.2" y="369.38" width="4.0" height="3.0" fill="#fff" stroke="none" stroke-width="1" />
<rect x="291.20000000000005" y="378.8" width="8.8" height="2.6" fill="#fff" stroke="none" stroke-width="1" />
<rect x="301.2" y="378.8" width="1.0" height="2.6" fill="#fff" stroke="none" stroke-width="1" />
<rect x="303.2" y="378.6" width="4.0" height="3.0" fill="#fff" stroke="none" stroke-width="1" />
<rect x="291.20000000000005" y="388.02" width="8.8" height="2.6" fill="#fff" stroke="none" stroke-width="1" />
<rect x="301.2" y="388.02" width="1.0" height="2.6" fill="#fff" stroke="none" stroke-width="1" />
<rect x="303.2" y="387.82" width="4.0" height="3.0" fill="#fff" stroke="none" stroke-width="1" />
<rect x="291.20000000000005" y="397.24" width="8.8" height="2.6" fill="#fff" stroke="none" stroke-width="1" />
<rect x="301.2" y="397.24" width="1.0" height="2.6" fill="#fff" stroke="none" stroke-width="1" />
<rect x="303.2" y="397.04" width="4.0" height="3.0" fill="#fff" stroke="none" stroke-width="1" />
<rect x="294.6" y="406.46" width="5.4" height="2.6" fill="#fff" stroke="none" stroke-width="1" />
<rect x="301.2" y="406.46" width="1.0" height="2.6" fill="#fff" stroke="none" stroke-width="1" />
<rect x="303.2" y="406.26" width="4.0" height="3.0" fill="#fff" stroke="none" stroke-width="1" />
<rect x="294.6" y="415.68" width="5.4" height="2.6" fill="#fff" stroke="none" stroke-width="1" />
<rect x="301.2" y="415.68" width="1.0" height="2.6" fill="#fff" stroke="none" stroke-width="1" />
<rect x="303.2" y="415.48" width="4.0" height="3.0" fill="#fff" stroke="none" stroke-width="1" />
<rect x="294.6" y="424.9" width="5.4" height="2.6" fill="#fff" stroke="none" stroke-width="1" />
<rect x="301.2" y="424.9" width="1.0" height="2.6" fill="#fff" stroke="none" stroke-width="1" />
<rect x="303.2" y="424.7" width="4.0" height="3.0" fill="#fff" stroke="none" stroke-width="1" />
<rect x="314" y="330.3" width="9.7" height="7.4" fill="#fff" stroke="none" stroke-width="1" />
<text x="319" y="336.8" font-size="7.8" fill="#2c3560" font-family='"Liberation Sans","Noto Sans CJK SC",sans-serif' text-anchor="middle" textLength="8.4" lengthAdjust="spacingAndGlyphs">L1</text>
<rect x="314" y="339.52000000000004" width="9.7" height="7.4" fill="#fff" stroke="none" stroke-width="1" />
<text x="319" y="346.02000000000004" font-size="7.8" fill="#2c3560" font-family='"Liberation Sans","Noto Sans CJK SC",sans-serif' text-anchor="middle" textLength="8.4" lengthAdjust="spacingAndGlyphs">L2</text>
<rect x="314" y="348.74" width="9.7" height="7.4" fill="#fff" stroke="none" stroke-width="1" />
<text x="319" y="355.24" font-size="7.8" fill="#2c3560" font-family='"Liberation Sans","Noto Sans CJK SC",sans-serif' text-anchor="middle" textLength="8.4" lengthAdjust="spacingAndGlyphs">NC</text>
<rect x="314" y="357.96000000000004" width="9.7" height="7.4" fill="#fff" stroke="none" stroke-width="1" />
<text x="319" y="364.46000000000004" font-size="7.8" fill="#2c3560" font-family='"Liberation Sans","Noto Sans CJK SC",sans-serif' text-anchor="middle">P</text>
<rect x="314" y="367.18" width="9.7" height="7.4" fill="#fff" stroke="none" stroke-width="1" />
<text x="319" y="373.68" font-size="7.8" fill="#2c3560" font-family='"Liberation Sans","Noto Sans CJK SC",sans-serif' text-anchor="middle">D</text>
<rect x="314" y="376.40000000000003" width="9.7" height="7.4" fill="#fff" stroke="none" stroke-width="1" />
<text x="319" y="382.90000000000003" font-size="7.8" fill="#2c3560" font-family='"Liberation Sans","Noto Sans CJK SC",sans-serif' text-anchor="middle">C</text>
<rect x="314" y="385.62" width="9.7" height="7.4" fill="#fff" stroke="none" stroke-width="1" />
<text x="319" y="392.12" font-size="7.8" fill="#2c3560" font-family='"Liberation Sans","Noto Sans CJK SC",sans-serif' text-anchor="middle">N</text>
<rect x="314" y="394.84000000000003" width="9.7" height="7.4" fill="#fff" stroke="none" stroke-width="1" />
<text x="319" y="401.34000000000003" font-size="7.8" fill="#2c3560" font-family='"Liberation Sans","Noto Sans CJK SC",sans-serif' text-anchor="middle">U</text>
<rect x="314" y="404.06" width="9.7" height="7.4" fill="#fff" stroke="none" stroke-width="1" />
<text x="319" y="410.56" font-size="7.8" fill="#2c3560" font-family='"Liberation Sans","Noto Sans CJK SC",sans-serif' text-anchor="middle">V</text>
<rect x="314" y="413.28000000000003" width="9.7" height="7.4" fill="#fff" stroke="none" stroke-width="1" />
<text x="319" y="419.78000000000003" font-size="7.8" fill="#2c3560" font-family='"Liberation Sans","Noto Sans CJK SC",sans-serif' text-anchor="middle" textLength="5.4" lengthAdjust="spacingAndGlyphs">W</text>
<rect x="314" y="422.5" width="9.7" height="7.4" fill="#fff" stroke="none" stroke-width="1" />
<text x="319" y="429.0" font-size="7.8" fill="#2c3560" font-family='"Liberation Sans","Noto Sans CJK SC",sans-serif' text-anchor="middle" textLength="8.4" lengthAdjust="spacingAndGlyphs">PE</text>
<ellipse cx="284.6" cy="345.2" rx="3.3" ry="4.4" fill="#fff" stroke="#000" stroke-width="1.3"/>
<line x1="283.4" y1="342.6" x2="283.4" y2="347.8" stroke="#000" stroke-width="0.6" />
<line x1="285.8" y1="342.6" x2="285.8" y2="347.8" stroke="#000" stroke-width="0.6" />
<text x="0" y="0" font-size="3.4" fill="#446" font-family='"Liberation Sans","Noto Sans CJK SC",sans-serif' textLength="10.6" lengthAdjust="spacingAndGlyphs" font-weight="bold" transform="translate(280.6,351) rotate(-90)">CHARGE</text>
<polygon points="278.8,356.6 282.6,363.4 275,363.4" fill="#fff" stroke="#000" stroke-width="1.3" />
<line x1="278.8" y1="358.6" x2="278.8" y2="363" stroke="#000" stroke-width="1.2" />
<polygon points="278.8,417.8 282.6,424.4 275,424.4" fill="#fff" stroke="#222" stroke-width="0.8" />
<line x1="278.8" y1="420" x2="278.8" y2="423.4" stroke="#222" stroke-width="0.7" />
<circle cx="278.8" cy="430.2" r="3" fill="#fff" stroke="#222" stroke-width="0.8"/>
<line x1="276.4" y1="430.4" x2="281.2" y2="430.4" stroke="#222" stroke-width="0.7" />
<line x1="278.8" y1="427.6" x2="278.8" y2="430.4" stroke="#222" stroke-width="0.7" />
<line x1="277.4" y1="431.8" x2="280.2" y2="431.8" stroke="#222" stroke-width="0.6" />
<line x1="271" y1="333.2" x2="293" y2="333.2" stroke="#222" stroke-width="1" />
<line x1="271" y1="343" x2="293" y2="343" stroke="#222" stroke-width="1" />
<line x1="271" y1="361.4" x2="289" y2="361.4" stroke="#222" stroke-width="1" />
<line x1="271" y1="370.6" x2="289" y2="370.6" stroke="#222" stroke-width="1" />
<line x1="271" y1="379.8" x2="289" y2="379.8" stroke="#222" stroke-width="1" />
<line x1="271" y1="389.3" x2="289" y2="389.3" stroke="#222" stroke-width="1" />
<line x1="271" y1="398.6" x2="289" y2="398.6" stroke="#222" stroke-width="1" />
<line x1="271" y1="407.6" x2="293" y2="407.6" stroke="#222" stroke-width="1" />
<line x1="271" y1="416.8" x2="293" y2="416.8" stroke="#222" stroke-width="1" />
<!-- servo motor -->
<rect x="350" y="543.8" width="7.6" height="6.2" fill="#000" stroke="none" stroke-width="1" rx="1.6" />
<rect x="347.6" y="547.6" width="12.2" height="9.8" fill="#050505" stroke="none" stroke-width="1" rx="2" />
<rect x="366.6" y="548.6" width="6.8" height="4.4" fill="#000" stroke="none" stroke-width="1" rx="1.6" />
<rect x="365.4" y="550.6" width="9.2" height="6.4" fill="#050505" stroke="none" stroke-width="1" rx="1.6" />
<polygon points="333.6,556.2 372.8,553 375.6,556.2 350.6,562.8" fill="#101010" stroke="none" stroke-width="1" />
<polygon points="350.6,562.6 375.6,556.6 376,577.4 351.6,592.8" fill="#0a0a0a" stroke="none" stroke-width="1" />
<line x1="352" y1="564.2" x2="375" y2="558.6" stroke="#9a9a9a" stroke-width="1.1" />
<line x1="353" y1="571.6" x2="375.6" y2="564.4" stroke="#3c3c3c" stroke-width="0.6" />
<line x1="353" y1="577.2" x2="375.6" y2="568.8" stroke="#3c3c3c" stroke-width="0.6" />
<line x1="353" y1="582.8" x2="375.6" y2="573.2" stroke="#3c3c3c" stroke-width="0.6" />
<line x1="369.4" y1="559.6" x2="369.8" y2="581.4" stroke="#444" stroke-width="0.6" />
<polygon points="328,556.6 350.2,563 351.2,592.8 328.6,584.8" fill="#a4a4a4" stroke="#1a1a1a" stroke-width="0.9" />
<line x1="329" y1="557.8" x2="350" y2="563.9" stroke="#d8d8d8" stroke-width="1.2" />
<ellipse cx="339.4" cy="575" rx="10.2" ry="12" fill="#050505" transform="rotate(-10 339.4 575)"/>
<circle cx="330.4" cy="559.6" r="0.9" fill="#222" stroke="none" stroke-width="1"/>
<circle cx="348.8" cy="565" r="0.9" fill="#222" stroke="none" stroke-width="1"/>
<circle cx="349.8" cy="589.2" r="0.9" fill="#222" stroke="none" stroke-width="1"/>
<circle cx="330.6" cy="583.2" r="0.9" fill="#222" stroke="none" stroke-width="1"/>
<polygon points="326.4,574.2 337.6,572.6 338.4,580.4 327,582.6" fill="#b4b4b4" stroke="#555" stroke-width="0.5" />
<line x1="327" y1="576.2" x2="337.8" y2="574.6" stroke="#e8e8e8" stroke-width="1.2" />
<ellipse cx="326.8" cy="578.4" rx="1.3" ry="4" fill="#d0d0d0" stroke="#777" stroke-width="0.4"/>
<text x="357" y="605.6" font-size="9.4" fill="#333" font-family='"Liberation Serif","Noto Serif CJK SC",serif' textLength="37.4" lengthAdjust="spacingAndGlyphs">伺服电机</text>
<circle cx="403" cy="532" r="0.5" fill="#888" stroke="none" stroke-width="1"/>
</svg>
</body>
</html>
